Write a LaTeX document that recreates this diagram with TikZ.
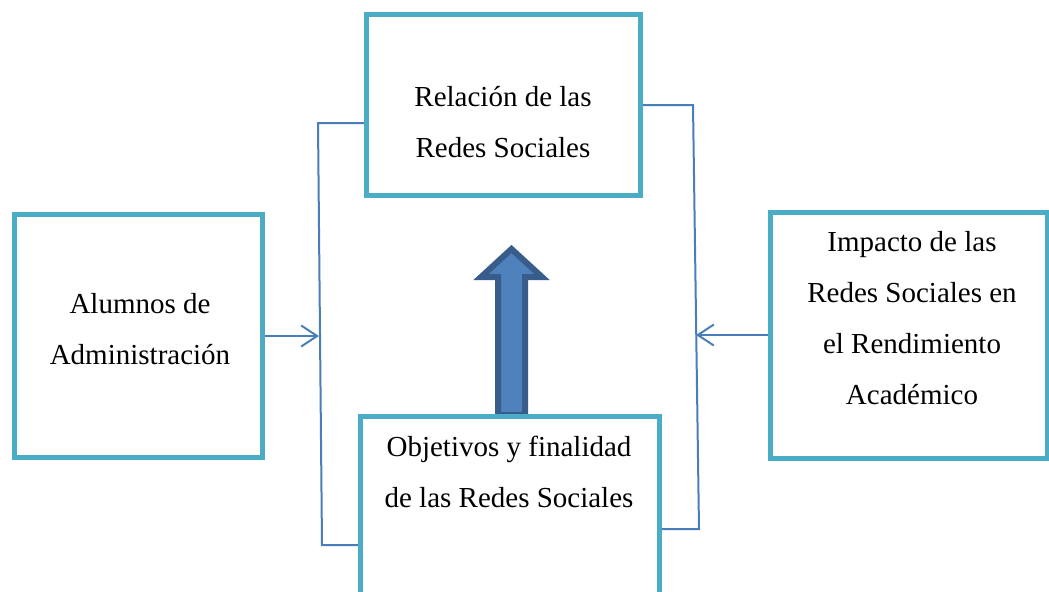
\documentclass[tikz,border=0pt]{standalone}
\usepackage{fontspec}
\setmainfont{Liberation Serif}
\usetikzlibrary{arrows.meta}
\definecolor{cajacol}{HTML}{4BACC6}
\definecolor{enlacecol}{HTML}{4A7EBB}
\definecolor{flechafill}{HTML}{4F81BD}
\definecolor{flechaborde}{HTML}{385D8A}
\tikzset{
  caja/.style={draw=cajacol, line width=2.5pt, inner sep=0pt},
  texto/.style={align=center, inner sep=0pt, font=\fontsize{14.5}{25.5}\selectfont},
  enlace/.style={draw=enlacecol, line width=1pt},
  punta/.style={-{Straight Barb[length=8pt,width=10.5pt]}},
  flecha/.style={fill=flechafill, draw=flechaborde, line width=3pt}
}

\begin{document}
\begin{tikzpicture}[x=0.5pt,y=-0.5pt]
  \useasboundingbox (0,0) rectangle (1049,591);
  \fill[white] (0,0) rectangle (1049,591);
  \clip (0,0) rectangle (1049,591);

  \coordinate (codoA) at (318,123);
  \coordinate (codoB) at (322,545);
  \coordinate (codoC) at (693,105);
  \coordinate (codoD) at (699,529);
  \coordinate (pA) at (319,336);
  \coordinate (pB) at (696,335);

  % flecha grande
  \filldraw[flecha] (498,415) -- (498,277) -- (481,277) -- (511.5,249)
    -- (542,277) -- (525,277) -- (525,415) -- cycle;

  \node[caja, minimum width=136.75pt, minimum height=90.5pt] (rel) at (503.25,105) {};
  \node[caja, minimum width=124pt, minimum height=121.5pt] (alu) at (138.5,336) {};
  \node[caja, minimum width=138.25pt, minimum height=123pt] (imp) at (908.75,335) {};
  \node[caja, minimum width=149.25pt, minimum height=150pt] (obj) at (509.75,566.5) {};

  \node[texto] (relT) at (503,122) {Relación de las\\Redes Sociales};
  \node[texto] (aluT) at (140,329) {Alumnos de\\Administración};
  \node[texto] (impT) at (912,318) {Impacto de las\\Redes Sociales en\\el Rendimiento\\Académico};
  \node[texto] (objT) at (509,472) {Objetivos y finalidad\\de las Redes Sociales};

  \draw[enlace] ([yshift=-9pt]rel.west) -- (codoA) -- (codoB) -- ([yshift=10.75pt]obj.west);
  \draw[enlace] (rel.east) -- (codoC) -- (codoD) -- ([yshift=18.75pt]obj.east);
  \draw[enlace,punta] (alu.east) -- (pA);
  \draw[enlace,punta] (imp.west) -- (pB);
\end{tikzpicture}
\end{document}
